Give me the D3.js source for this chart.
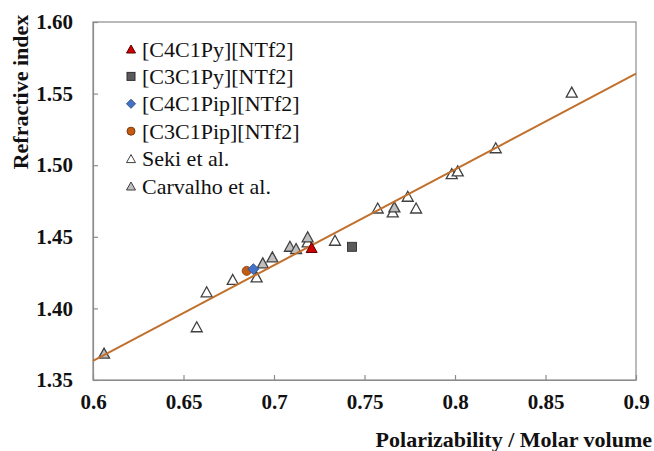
<!DOCTYPE html>
<html>
<head>
<meta charset="utf-8">
<script src="https://cdn.jsdelivr.net/npm/d3@7"></script>
<style>
  html, body { margin: 0; padding: 0; background: #fff; }
  svg { display: block; }
  text { font-family: "Liberation Serif", "Times New Roman", serif; }
</style>
</head>
<body>
<svg id="chart" width="654" height="451"></svg>
<script>
// ---- data ----
const seriesNames = ["[C4C1Py][NTf2]", "[C3C1Py][NTf2]", "[C4C1Pip][NTf2]", "[C3C1Pip][NTf2]", "Seki et al.", "Carvalho et al."];

const c4c1pyX = [0.7208];
const c4c1pyY = [1.4425];
const c3c1pyX = [0.7431];
const c3c1pyY = [1.4430];
const c4c1pipX = [0.6886];
const c4c1pipY = [1.4274];
const c3c1pipX = [0.6849];
const c3c1pipY = [1.4262];

const sekiX = [0.6573, 0.6628, 0.6772, 0.6904, 0.7186, 0.7337, 0.7573, 0.7656, 0.7785, 0.7739, 0.7982, 0.8015, 0.8225, 0.8645];
const sekiY = [1.3872, 1.4116, 1.4202, 1.4220, 1.4464, 1.4476, 1.4701, 1.4674, 1.4701, 1.4783, 1.4941, 1.4960, 1.5122, 1.5510];

const carvalhoX = [0.6061, 0.6938, 0.6991, 0.7088, 0.7122, 0.7186, 0.7665];
const carvalhoY = [1.3688, 1.4318, 1.4360, 1.4434, 1.4418, 1.4500, 1.4709];

const trendX = [0.6, 0.9];
const trendY = [1.3633, 1.5639];

const xTicks = [0.6, 0.65, 0.7, 0.75, 0.8, 0.85, 0.9];
const xTickLabels = ["0.6", "0.65", "0.7", "0.75", "0.8", "0.85", "0.9"];
const yTicks = [1.35, 1.40, 1.45, 1.50, 1.55, 1.60];
const yTickLabels = ["1.35", "1.40", "1.45", "1.50", "1.55", "1.60"];

const xTitle = "Polarizability / Molar volume";
const yTitle = "Refractive index";

// ---- layout ----
const svg = d3.select("#chart");
const mLeft = 93, mRight = 636, mTop = 22, mBottom = 380;

const x = d3.scaleLinear().domain([0.6, 0.9]).range([mLeft, mRight]);
const y = d3.scaleLinear().domain([1.35, 1.60]).range([mBottom, mTop]);

const axisColor = "#8c8c8c";

// plot box
svg.append("rect")
  .attr("x", mLeft).attr("y", mTop)
  .attr("width", mRight - mLeft).attr("height", mBottom - mTop)
  .attr("fill", "none").attr("stroke", axisColor).attr("stroke-width", 1.2);

// x axis (ticks inward)
const xAxis = d3.axisBottom(x).tickValues(xTicks)
  .tickFormat((d, i) => xTickLabels[i]).tickSizeInner(-5).tickSizeOuter(0).tickPadding(14);
const gx = svg.append("g").attr("transform", `translate(0,${mBottom})`).call(xAxis);
gx.select(".domain").attr("stroke", axisColor).attr("stroke-width", 1.2);
gx.selectAll(".tick line").attr("stroke", axisColor).attr("stroke-width", 1.2);
gx.selectAll(".tick text")
  .attr("font-family", "'Liberation Serif', serif")
  .attr("font-size", 21).attr("font-weight", "bold").attr("fill", "#111");

// y axis (ticks inward)
const yAxis = d3.axisLeft(y).tickValues(yTicks)
  .tickFormat((d, i) => yTickLabels[i]).tickSizeInner(-5).tickSizeOuter(0).tickPadding(20);
const gy = svg.append("g").attr("transform", `translate(${mLeft},0)`).call(yAxis);
gy.select(".domain").attr("stroke", axisColor).attr("stroke-width", 1.2);
gy.selectAll(".tick line").attr("stroke", axisColor).attr("stroke-width", 1.2);
gy.selectAll(".tick text")
  .attr("font-family", "'Liberation Serif', serif")
  .attr("font-size", 21).attr("font-weight", "bold").attr("fill", "#111");

// axis titles
svg.append("text")
  .attr("x", 652).attr("y", 447)
  .attr("text-anchor", "end")
  .attr("font-size", 22).attr("font-weight", "bold").attr("fill", "#111")
  .text(xTitle);

svg.append("text")
  .attr("transform", "translate(28,92) rotate(-90)")
  .attr("text-anchor", "middle")
  .attr("font-size", 22).attr("font-weight", "bold").attr("fill", "#111")
  .text(yTitle);

// marker helpers
function triPath(w, h) {
  return `M0,${-h / 2}L${w / 2},${h / 2}L${-w / 2},${h / 2}Z`;
}
const zip = (xs, ys) => xs.map((v, i) => ({ x: v, y: ys[i] }));

const plot = svg.append("g");

// Seki (white triangles)
plot.selectAll(".seki").data(zip(sekiX, sekiY)).join("path")
  .attr("d", triPath(11, 10))
  .attr("transform", d => `translate(${x(d.x)},${y(d.y)})`)
  .attr("fill", "#ffffff").attr("stroke", "#404040").attr("stroke-width", 1.3);

// Carvalho (gray triangles)
plot.selectAll(".carv").data(zip(carvalhoX, carvalhoY)).join("path")
  .attr("d", triPath(11, 10))
  .attr("transform", d => `translate(${x(d.x)},${y(d.y)})`)
  .attr("fill", "#bfbfbf").attr("stroke", "#404040").attr("stroke-width", 1.3);

// trendline
plot.append("line")
  .attr("x1", x(trendX[0])).attr("y1", y(trendY[0]))
  .attr("x2", x(trendX[1])).attr("y2", y(trendY[1]))
  .attr("stroke", "#c0702c").attr("stroke-width", 2);

// own series
plot.selectAll(".c3c1pip").data(zip(c3c1pipX, c3c1pipY)).join("circle")
  .attr("cx", d => x(d.x)).attr("cy", d => y(d.y)).attr("r", 4.5)
  .attr("fill", "#c55a11").attr("stroke", "#7a3a10").attr("stroke-width", 0.8);

plot.selectAll(".c4c1pip").data(zip(c4c1pipX, c4c1pipY)).join("path")
  .attr("d", "M0,-5.5L5.5,0L0,5.5L-5.5,0Z")
  .attr("transform", d => `translate(${x(d.x)},${y(d.y)})`)
  .attr("fill", "#4472c4").attr("stroke", "#2f4f8a").attr("stroke-width", 0.8);

plot.selectAll(".c3c1py").data(zip(c3c1pyX, c3c1pyY)).join("rect")
  .attr("x", d => x(d.x) - 4.5).attr("y", d => y(d.y) - 4.5)
  .attr("width", 9).attr("height", 9)
  .attr("fill", "#5a5a5a").attr("stroke", "#303030").attr("stroke-width", 0.9);

plot.selectAll(".c4c1py").data(zip(c4c1pyX, c4c1pyY)).join("path")
  .attr("d", triPath(11, 10))
  .attr("transform", d => `translate(${x(d.x)},${y(d.y)})`)
  .attr("fill", "#d00000").attr("stroke", "#5a0000").attr("stroke-width", 1);

// legend
const legendStyles = [
  { shape: "tri", fill: "#d00000", stroke: "#5a0000" },
  { shape: "sq", fill: "#5a5a5a", stroke: "#303030" },
  { shape: "dia", fill: "#4472c4", stroke: "#2f4f8a" },
  { shape: "circ", fill: "#c55a11", stroke: "#7a3a10" },
  { shape: "tri", fill: "#ffffff", stroke: "#404040" },
  { shape: "tri", fill: "#bfbfbf", stroke: "#404040" }
];
const lg = svg.append("g");
seriesNames.forEach((name, i) => {
  const cy = 49 + i * 27.4;
  const st = legendStyles[i];
  const g = lg.append("g").attr("transform", `translate(131,${cy})`);
  if (st.shape === "tri") g.append("path").attr("d", triPath(9, 8));
  else if (st.shape === "sq") g.append("rect").attr("x", -4).attr("y", -4).attr("width", 8).attr("height", 8);
  else if (st.shape === "dia") g.append("path").attr("d", "M0,-4.5L4.5,0L0,4.5L-4.5,0Z");
  else g.append("circle").attr("r", 4);
  g.select("*").attr("fill", st.fill).attr("stroke", st.stroke).attr("stroke-width", 1);
  lg.append("text")
    .attr("x", 142).attr("y", cy + 7.5)
    .attr("font-size", 22).attr("fill", "#111")
    .text(name);
});
</script>
</body>
</html>
